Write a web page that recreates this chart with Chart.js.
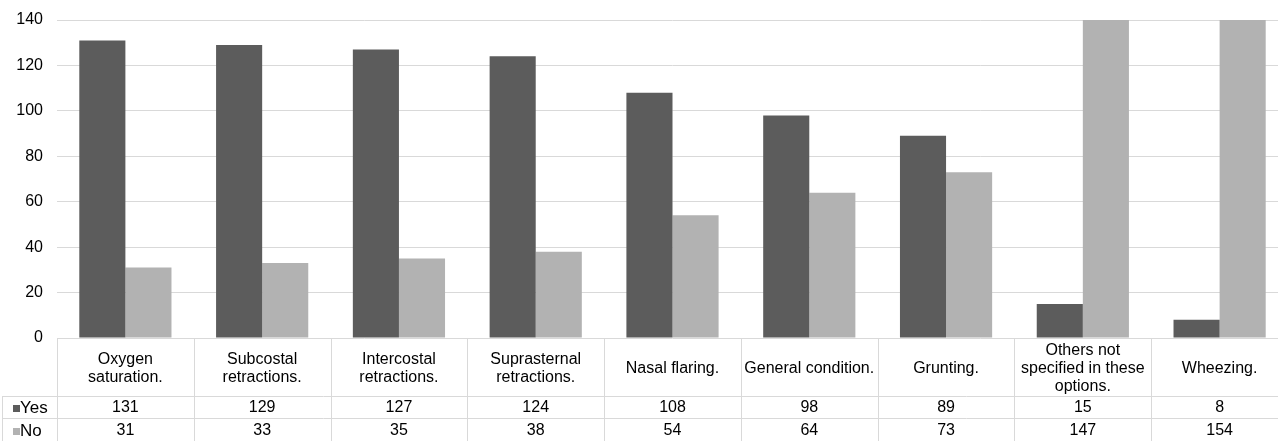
<!DOCTYPE html>
<html lang="en">
<head>
    <meta charset="utf-8">
    <title>Signs assessed</title>
    <script src="https://cdn.jsdelivr.net/npm/chart.js"></script>
    <style>
        html, body {
            margin: 0;
            padding: 0;
            overflow: hidden;
            background: #fff;
        }
        #chartBox {
            width: 1288px;
            height: 441px;
        }
    </style>
</head>
<body>
<div id="chartBox">
    <canvas id="signsChart" width="1288" height="441"></canvas>
</div>

<script>
    // data
    var categories = [
        ['Oxygen', 'saturation.'],
        ['Subcostal', 'retractions.'],
        ['Intercostal', 'retractions.'],
        ['Suprasternal', 'retractions.'],
        ['Nasal flaring.'],
        ['General condition.'],
        ['Grunting.'],
        ['Others not', 'specified in these', 'options.'],
        ['Wheezing.']
    ];
    var yesValues = [131, 129, 127, 124, 108, 98, 89, 15, 8];
    var noValues = [31, 33, 35, 38, 54, 64, 73, 147, 154];
    var seriesNames = ['Yes', 'No'];
    var yTicks = [0, 20, 40, 60, 80, 100, 120, 140];

    var darkGrey = '#5c5c5c';
    var lightGrey = '#b2b2b2';
    var lineGrey = '#d9d9d9';
    var font = '"Liberation Sans", Arial, sans-serif';

    // draws the Excel-style data table under the plot
    var dataTable = {
        id: 'dataTable',
        afterDraw: function (chart) {
            var ctx = chart.ctx;
            var x = chart.scales.x;
            var area = chart.chartArea;
            var top = area.bottom;
            var rowYes = top + 58;
            var rowNo = rowYes + 22;
            var bottom = rowNo + 24;
            var n = categories.length;
            var step = (area.right - area.left) / n;

            ctx.save();
            ctx.strokeStyle = lineGrey;
            ctx.lineWidth = 1;
            ctx.beginPath();
            for (var i = 0; i <= n; i++) {
                var vx = Math.round(area.left + i * step) + 0.5;
                ctx.moveTo(vx, top);
                ctx.lineTo(vx, bottom);
            }
            ctx.moveTo(2, Math.round(rowYes) + 0.5);
            ctx.lineTo(area.right, Math.round(rowYes) + 0.5);
            ctx.moveTo(2, Math.round(rowNo) + 0.5);
            ctx.lineTo(area.right, Math.round(rowNo) + 0.5);
            ctx.moveTo(2.5, rowYes);
            ctx.lineTo(2.5, bottom);
            ctx.stroke();

            ctx.fillStyle = '#000';
            ctx.textAlign = 'center';
            ctx.textBaseline = 'middle';
            var lineH = 18;
            var headMid = (top + rowYes) / 2 + 2;
            for (var c = 0; c < n; c++) {
                var cx = x.getPixelForValue(c);
                var lines = categories[c];
                var start = headMid - (lines.length - 1) * lineH / 2;
                ctx.font = '16px ' + font;
                for (var l = 0; l < lines.length; l++) {
                    ctx.fillText(lines[l], cx, start + l * lineH);
                }
                ctx.fillText(String(yesValues[c]), cx, (rowYes + rowNo) / 2 + 1);
                ctx.fillText(String(noValues[c]), cx, (rowNo + bottom) / 2 + 1);
            }

            // series keys in the left column
            ctx.textAlign = 'left';
            ctx.font = '17px ' + font;
            var rows = [[rowYes, rowNo, darkGrey], [rowNo, bottom, lightGrey]];
            for (var r = 0; r < rows.length; r++) {
                var mid = (rows[r][0] + rows[r][1]) / 2 + 1;
                ctx.fillStyle = rows[r][2];
                ctx.fillRect(13, Math.round(mid - 3), 7, 7);
                ctx.fillStyle = '#000';
                ctx.fillText(seriesNames[r], 20, mid);
            }
            ctx.restore();
        }
    };

    var ctx = document.getElementById('signsChart').getContext('2d');
    var chart = new Chart(ctx, {
        type: 'bar',
        data: {
            labels: categories,
            datasets: [{
                label: seriesNames[0],
                data: yesValues,
                backgroundColor: darkGrey,
                borderWidth: 0
            }, {
                label: seriesNames[1],
                data: noValues,
                backgroundColor: lightGrey,
                borderWidth: 0
            }]
        },
        options: {
            responsive: false,
            animation: false,
            layout: {
                padding: { top: 20, bottom: 103, left: 0, right: 0 }
            },
            datasets: {
                bar: { categoryPercentage: 0.674, barPercentage: 1.0 }
            },
            plugins: {
                legend: { display: false },
                tooltip: { enabled: false }
            },
            scales: {
                x: {
                    display: false
                },
                y: {
                    min: 0,
                    max: 140,
                    afterBuildTicks: function (scale) {
                        scale.ticks = yTicks.map(function (v) { return { value: v }; });
                    },
                    afterFit: function (scale) {
                        scale.width = 57;
                    },
                    ticks: {
                        color: '#000',
                        padding: 0,
                        font: { family: font, size: 16 }
                    },
                    grid: {
                        color: lineGrey,
                        drawTicks: true,
                        tickLength: 14,
                        tickColor: 'rgba(0,0,0,0)'
                    },
                    border: { display: false }
                }
            }
        },
        plugins: [dataTable]
    });
</script>
</body>
</html>
